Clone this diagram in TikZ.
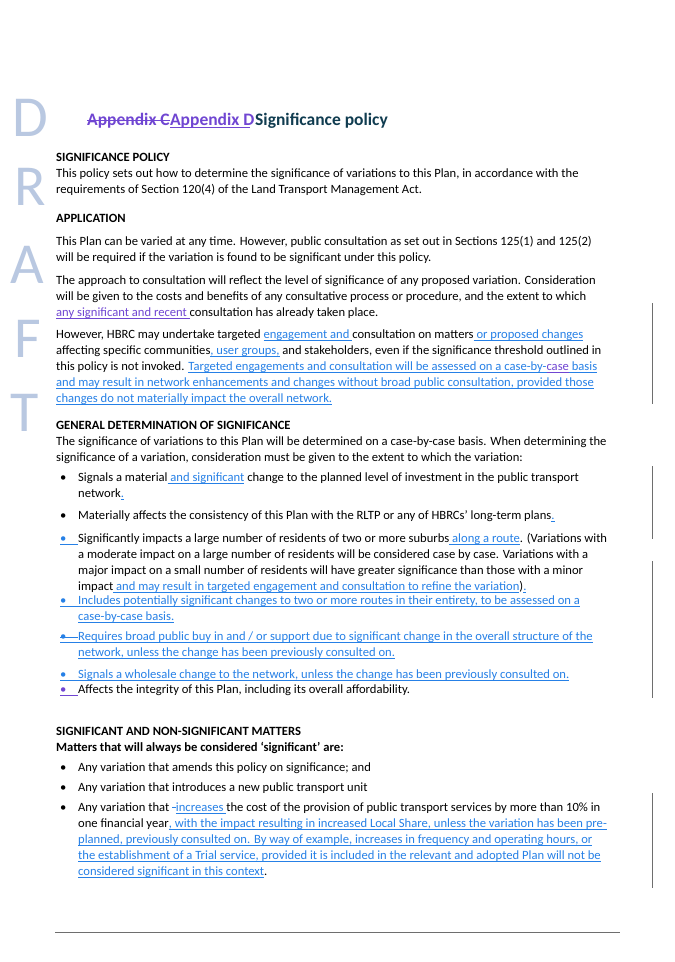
\documentclass[tikz,border=0pt]{standalone}
\usepackage{fontspec}
\setmainfont{Carlito}
\definecolor{insblue}{RGB}{38,128,230}
\definecolor{inspurple}{RGB}{112,70,210}
\definecolor{headteal}{RGB}{16,60,80}
\definecolor{draftgrey}{RGB}{185,200,225}
\definecolor{barg}{RGB}{110,110,110}
\newsavebox{\markbox}
\newcommand{\uln}[1]{\sbox{\markbox}{#1}\rlap{\rule[-2.2pt]{\wd\markbox}{0.5pt}}\usebox{\markbox}}
\newcommand{\strk}[1]{\sbox{\markbox}{#1}\rlap{\rule[0.55ex]{\wd\markbox}{0.7pt}}\usebox{\markbox}}
\newcommand{\ins}[1]{{\color{insblue}\uln{#1}}}
\newcommand{\insp}[1]{{\color{inspurple}\uln{#1}}}
\newcommand{\body}{\fontsize{12.6}{15}\selectfont}
\newcommand{\textline}[4]{\node[txt] (#1) at (#2,#3) {#4};}
\newcommand{\bul}[2]{\node[txt] (#1) at (60,#2) {\textbullet};}
\newcommand{\insbul}[3]{\node[txt,text=#3] (#1) at (60,#2) {\textbullet};
  \draw[#3,line width=.5pt] ([yshift=-2.2pt]#1.base west) -- ++(18,0);}
\begin{document}
\begin{tikzpicture}[x=1pt,y=-1pt,
  txt/.style={anchor=base west,inner sep=0pt,font=\body},
  head/.style={txt,font=\body\bfseries},
  draft/.style={anchor=base west,inner sep=0pt,text=draftgrey,font=\fontsize{58}{58}\selectfont},
  chbar/.style={barg,line width=.8pt}]
\useasboundingbox[fill=white] (0,0) rectangle (675,962);

% draft watermark
\node[draft] (dD) at (12,136) {D};
\node[draft] (dR) at (14,205) {R};
\node[draft] (dA) at (10,283) {A};
\node[draft] (dF) at (14,357) {F};
\node[draft] (dT) at (10,431) {T};

% title
\node[txt,font=\fontsize{17.5}{20}\selectfont\bfseries,text=inspurple] (oldapp) at (87,125) {\strk{Appendix C}};
\node[txt,font=\fontsize{17.5}{20}\selectfont\bfseries,text=inspurple] (newapp) at (oldapp.base east) {Appendix D};
\draw[inspurple,line width=.6pt] ([yshift=-2.5pt]newapp.base west) -- ([yshift=-2.5pt]newapp.base west -| 250,0);
\node[txt,font=\fontsize{17.5}{20}\selectfont\bfseries,text=headteal] (title) at (255,125) {Significance policy};

% significance policy
\node[head] (h1) at (56,161) {SIGNIFICANCE POLICY};
\textline{p1}{56}{177}{This policy sets out how to determine the significance of variations to this Plan, in accordance with the}
\textline{p2}{56}{193}{requirements of Section 120(4) of the Land Transport Management Act.}

% application
\node[head] (h2) at (56,222) {APPLICATION};
\textline{a1}{56}{245}{This Plan can be varied at any time. However, public consultation as set out in Sections 125(1) and 125(2)}
\textline{a2}{56}{261}{will be required if the variation is found to be significant under this policy.}
\textline{a3}{56}{284}{The approach to consultation will reflect the level of significance of any proposed variation. Consideration}
\textline{a4}{56}{300}{will be given to the costs and benefits of any consultative process or procedure, and the extent to which}
\textline{a5}{56}{316}{\insp{any significant and recent }consultation has already taken place.}
\textline{a6}{56}{338}{However, HBRC may undertake targeted \ins{engagement and }consultation on matters\ins{ or proposed changes}}
\textline{a7}{56}{354}{affecting specific communities\ins{, user groups,} and stakeholders, even if the significance threshold outlined in}
\textline{a8}{56}{370}{this policy is not invoked. \ins{Targeted engagements and consultation will be assessed on a case-by-}\insp{case}\ins{ basis}}
\textline{a9}{56}{386}{\ins{and may result in network enhancements and changes without broad public consultation, provided those}}
\textline{a10}{56}{402}{\ins{changes do not materially impact the overall network.}}

% general determination
\node[head] (h3) at (56,429) {GENERAL DETERMINATION OF SIGNIFICANCE};
\textline{g1}{56}{445}{The significance of variations to this Plan will be determined on a case-by-case basis. When determining the}
\textline{g2}{56}{461}{significance of a variation, consideration must be given to the extent to which the variation:}
\bul{b1}{481}
\textline{g3}{78}{481}{Signals a material\ins{ and significant} change to the planned level of investment in the public transport}
\textline{g4}{78}{497}{network\ins{.}}
\bul{b2}{519}
\textline{g5}{78}{519}{Materially affects the consistency of this Plan with the RLTP or any of HBRCs’ long-term plans\ins{.}}
\insbul{b3}{542}{insblue}
\textline{g6}{78}{542}{Significantly impacts a large number of residents of two or more suburbs\ins{ along a route}. (Variations with}
\textline{g7}{78}{558}{a moderate impact on a large number of residents will be considered case by case. Variations with a}
\textline{g8}{78}{574}{major impact on a small number of residents will have greater significance than those with a minor}
\textline{g9}{78}{590}{impact\ins{ and may result in targeted engagement and consultation to refine the variation})\ins{.}}
\insbul{b4}{604}{insblue}
\textline{g10}{78}{604}{\ins{Includes potentially significant changes to two or more routes in their entirety, to be assessed on a}}
\textline{g11}{78}{620}{\ins{case-by-case basis.}}
\insbul{b5}{640}{insblue}
\draw[insblue,line width=.5pt] (b5.west) -- ++(18,0);
\textline{g12}{78}{640}{\ins{Requires broad public buy in and / or support due to significant change in the overall structure of the}}
\textline{g13}{78}{656}{\ins{network, unless the change has been previously consulted on.}}
\insbul{b6}{678}{insblue}
\textline{g14}{78}{678}{\ins{Signals a wholesale change to the network, unless the change has been previously consulted on.}}
\insbul{b7}{693}{inspurple}
\textline{g15}{78}{693}{Affects the integrity of this Plan, including its overall affordability.}

% significant matters
\node[head] (h4) at (56,735) {SIGNIFICANT AND NON-SIGNIFICANT MATTERS};
\node[head] (h5) at (56,751) {Matters that will always be considered ‘significant’ are:};
\bul{b8}{771}
\textline{s1}{78}{771}{Any variation that amends this policy on significance; and}
\bul{b9}{791}
\textline{s2}{78}{791}{Any variation that introduces a new public transport unit}
\bul{b10}{811}
\textline{s3}{78}{811}{Any variation that {\color{insblue}\strk{-}}\ins{increases }the cost of the provision of public transport services by more than 10\% in}
\textline{s4}{78}{827}{one financial year\ins{, with the impact resulting in increased Local Share, unless the variation has been pre-}}
\textline{s5}{78}{843}{\ins{planned, previously consulted on. By way of example, increases in frequency and operating hours, or}}
\textline{s6}{78}{859}{\ins{the establishment of a Trial service, provided it is included in the relevant and adopted Plan will not be}}
\textline{s7}{78}{875}{\ins{considered significant in this context}.}

% change bars and footer rule
\draw[chbar] (652,303) -- (652,404);
\draw[chbar] (652,466) -- (652,539);
\draw[chbar] (652,561) -- (652,698);
\draw[chbar] (652,793) -- (652,888);
\draw[barg,line width=.8pt] (55,932) -- (620,932);
\end{tikzpicture}
\end{document}
